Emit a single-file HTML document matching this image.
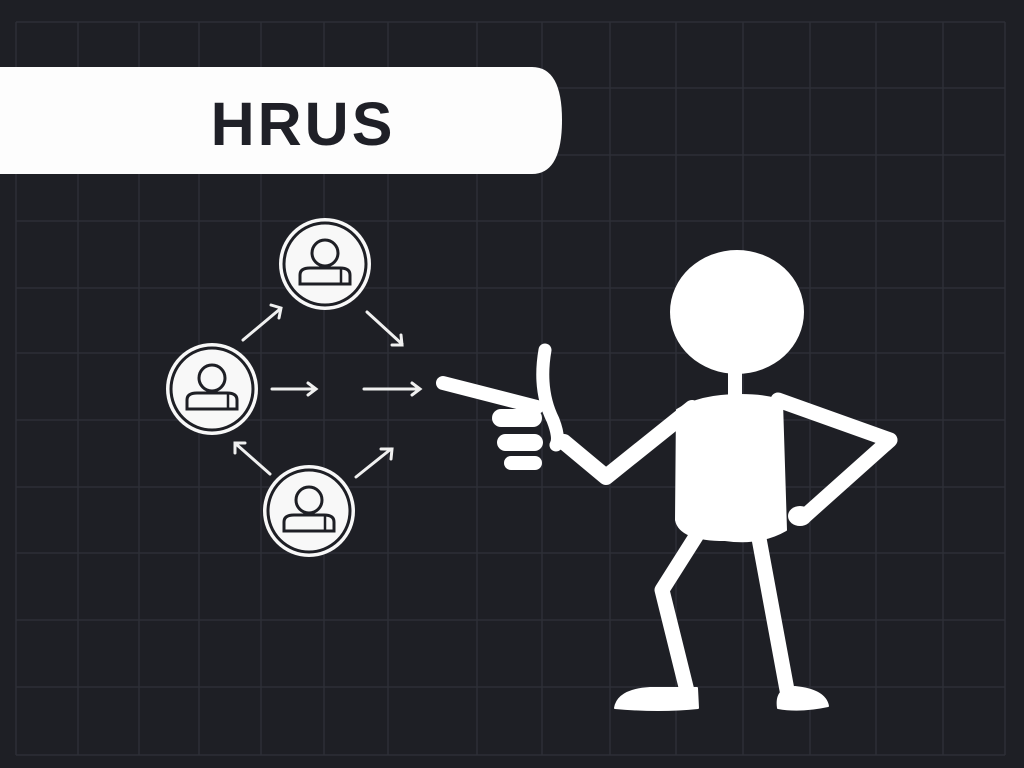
<!DOCTYPE html>
<html><head><style>html,body{margin:0;padding:0;background:#1e1f25;}</style></head>
<body>
<svg width="1024" height="768" viewBox="0 0 1024 768" xmlns="http://www.w3.org/2000/svg" style="display:block">
<rect width="1024" height="768" fill="#1e1f25"/>
<g stroke="#2d2f37" stroke-width="1.5">
<line x1="16" y1="22" x2="16" y2="755"/><line x1="78" y1="22" x2="78" y2="755"/><line x1="139" y1="22" x2="139" y2="755"/><line x1="199" y1="22" x2="199" y2="755"/><line x1="261" y1="22" x2="261" y2="755"/><line x1="324" y1="22" x2="324" y2="755"/><line x1="388" y1="22" x2="388" y2="755"/><line x1="477" y1="22" x2="477" y2="755"/><line x1="542" y1="22" x2="542" y2="755"/><line x1="610" y1="22" x2="610" y2="755"/><line x1="676" y1="22" x2="676" y2="755"/><line x1="743" y1="22" x2="743" y2="755"/><line x1="810" y1="22" x2="810" y2="755"/><line x1="876" y1="22" x2="876" y2="755"/><line x1="943" y1="22" x2="943" y2="755"/><line x1="1005" y1="22" x2="1005" y2="755"/>
<line x1="16" y1="22" x2="1005" y2="22"/><line x1="16" y1="88" x2="1005" y2="88"/><line x1="16" y1="155" x2="1005" y2="155"/><line x1="16" y1="221" x2="1005" y2="221"/><line x1="16" y1="288" x2="1005" y2="288"/><line x1="16" y1="353" x2="1005" y2="353"/><line x1="16" y1="420" x2="1005" y2="420"/><line x1="16" y1="487" x2="1005" y2="487"/><line x1="16" y1="553" x2="1005" y2="553"/><line x1="16" y1="620" x2="1005" y2="620"/><line x1="16" y1="687" x2="1005" y2="687"/><line x1="16" y1="755" x2="1005" y2="755"/>
</g>
<path d="M0 67 H532 Q562 67 562 120 Q562 174 532 174 H0 Z" fill="#fdfdfd"/>
<text x="303" y="145" text-anchor="middle" font-family="Liberation Sans, sans-serif" font-weight="bold" font-size="61" letter-spacing="3" fill="#1f2027">HRUS</text>

<defs>
<g id="node">
<circle r="46" fill="#f8f8f8"/>
<circle r="41" fill="none" stroke="#1e1f25" stroke-width="3"/>
<circle cx="0" cy="-11" r="13" fill="none" stroke="#1e1f25" stroke-width="3"/>
<path d="M-25 20 V11 Q-25 4 -15 4 H15 Q25 4 25 11 V20 Z" fill="none" stroke="#1e1f25" stroke-width="3"/>
<line x1="16" y1="5" x2="16" y2="20" stroke="#1e1f25" stroke-width="2.5"/>
</g>
</defs>
<use href="#node" x="325" y="264"/>
<use href="#node" x="212" y="389"/>
<use href="#node" x="309" y="511"/>
<g stroke="#f0f0f0" stroke-width="3" fill="none" stroke-linecap="round">
<path d="M243 340 L280 309"/><path d="M271 305 L281 308 L279 318"/>
<path d="M367 312 L402 344"/><path d="M392 345 L402 345 L401 335"/>
<path d="M272 389 L315 389"/><path d="M308 383 L316 389 L308 395"/>
<path d="M364 389 L419 389"/><path d="M412 383 L420 389 L412 395"/>
<path d="M270 474 L236 444"/><path d="M235 453 L235 443 L245 443"/>
<path d="M356 477 L391 449"/><path d="M381 449 L392 449 L391 459"/>
</g>

<g fill="#ffffff" stroke="#ffffff" stroke-linecap="round" stroke-linejoin="round">
<ellipse cx="737" cy="312" rx="67" ry="62" stroke="none"/>
<rect x="728" y="368" width="14" height="30" stroke="none"/>
<path d="M677 410 Q700 395 740 395 Q770 395 782 402 L786 530 Q760 545 725 540 Q680 540 676 520 Z" stroke-width="2"/>
<path d="M692 408 L606 477 L564 442" fill="none" stroke-width="16"/>
<path d="M778 400 L890 440 L806 515" fill="none" stroke-width="15"/>
<ellipse cx="800" cy="516" rx="12" ry="10" stroke="none"/>
<path d="M700 530 L662 590 L688 695" fill="none" stroke-width="15"/>
<path d="M758 533 L787 690" fill="none" stroke-width="15"/>
<path d="M615 708 Q618 690 650 688 L697 688 L698 708 Q660 712 615 708 Z" stroke-width="2"/>
<path d="M778 708 Q775 688 795 687 Q825 690 828 706 Q800 712 778 708 Z" stroke-width="2"/>
<path d="M443 383 L537 407" fill="none" stroke-width="14"/>
<path d="M545 350 Q538 390 553 420 Q560 438 556 445" fill="none" stroke-width="13"/>
<rect x="492" y="409" width="50" height="18" rx="9" stroke="none"/>
<rect x="497" y="434" width="46" height="17" rx="8.5" stroke="none"/>
<rect x="504" y="456" width="38" height="14" rx="7" stroke="none"/>
</g>
</svg>
</body></html>
